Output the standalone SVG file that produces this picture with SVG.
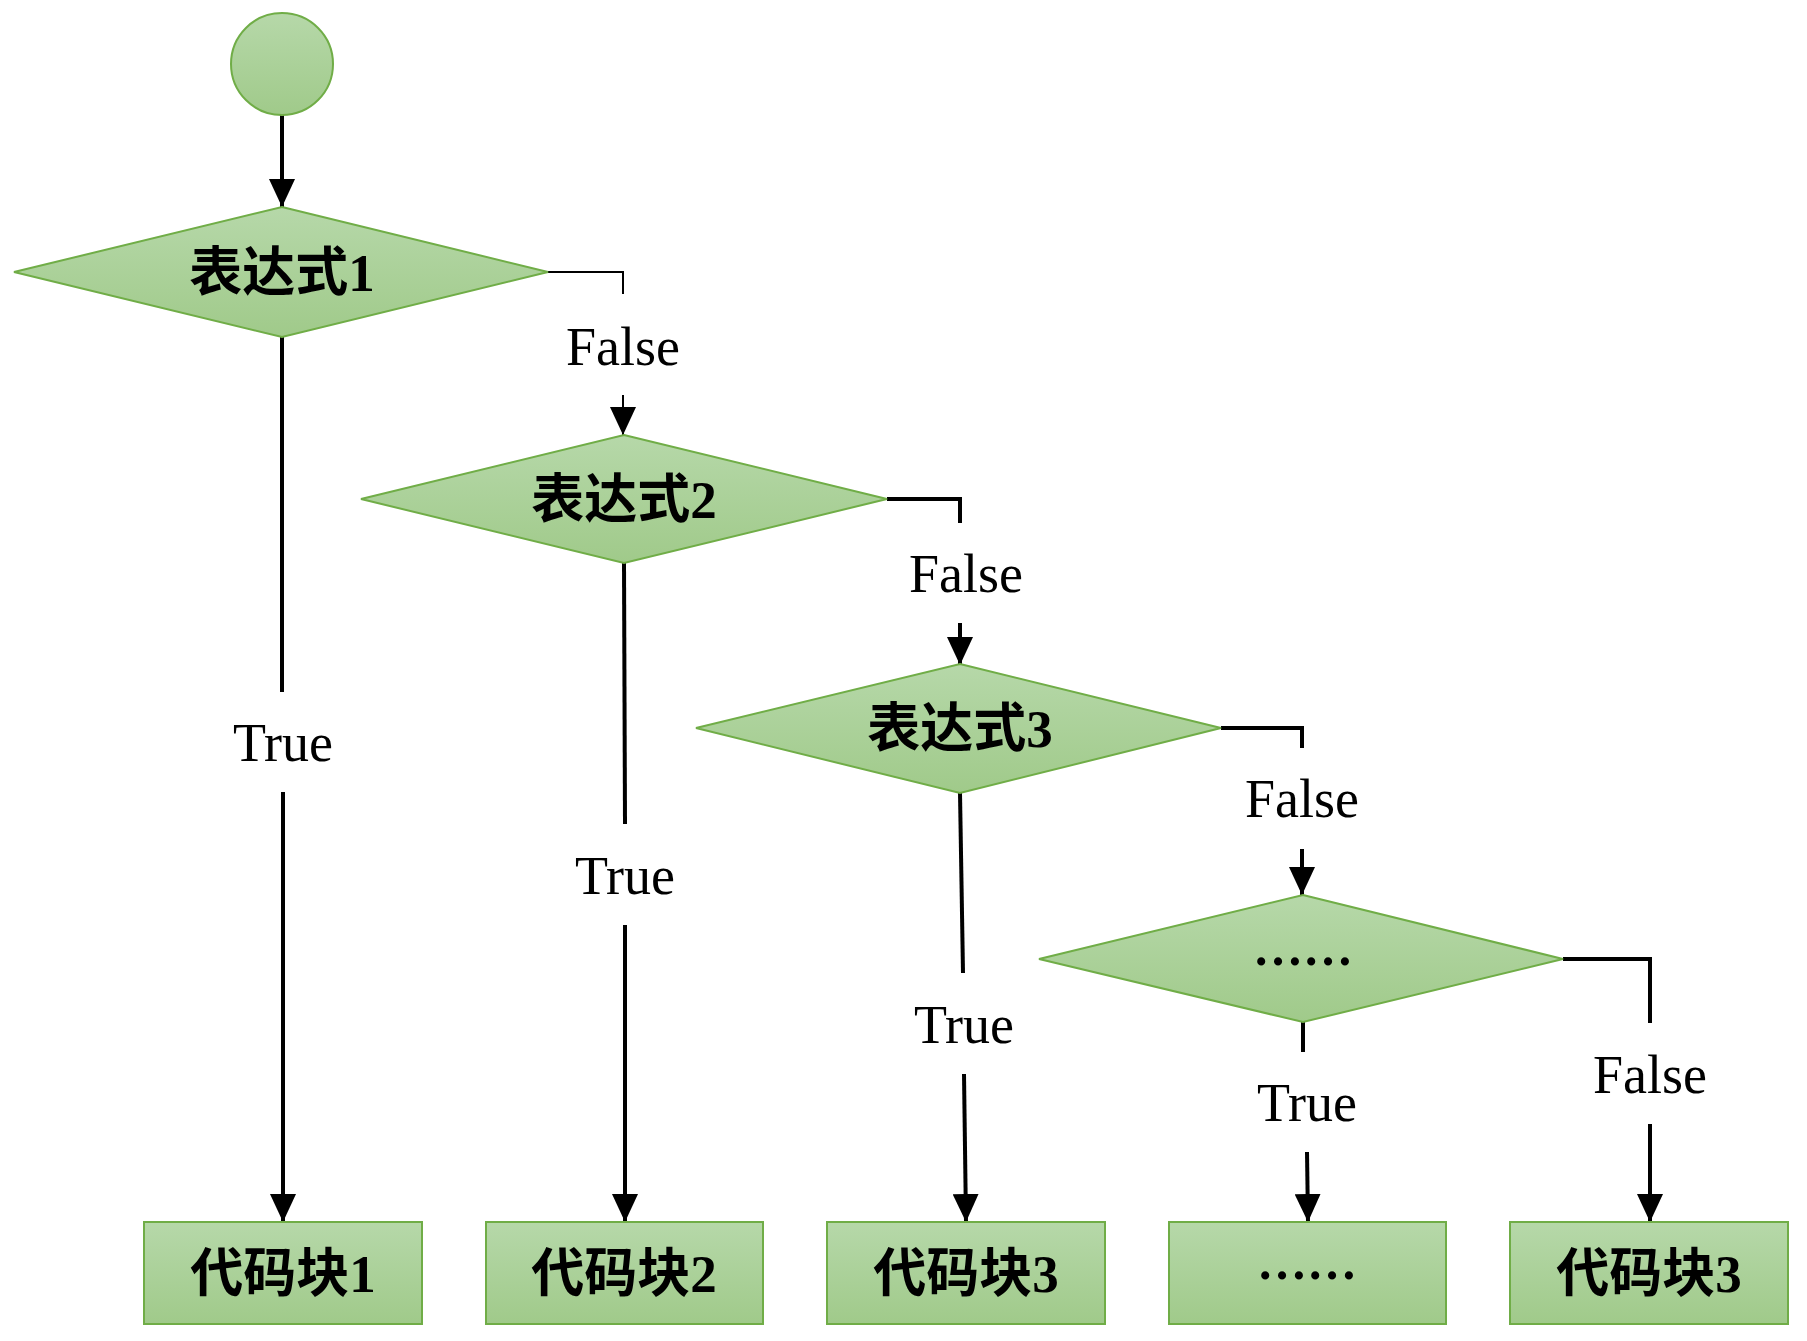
<svg xmlns="http://www.w3.org/2000/svg" width="1807" height="1341" viewBox="0 0 1807 1341">
<style>
.shape{fill:url(#g);stroke:#70ad47;stroke-width:2}
.ln{fill:none;stroke:#000;stroke-width:4}
.thin{stroke-width:2}
.lbl{font-family:"Liberation Serif","Times New Roman",serif;font-size:54px;fill:#000;text-anchor:middle}
.nt{font-family:"Liberation Serif","Noto Sans CJK SC",serif;font-size:53px;font-weight:bold;fill:#000;text-anchor:middle}
.dots{font-family:"Liberation Serif",serif;font-size:50px;font-weight:bold;fill:#000;text-anchor:middle}
</style>
<defs>
<linearGradient id="g" x1="0" y1="0" x2="0" y2="1">
<stop offset="0" stop-color="#b6d8a9"/>
<stop offset="1" stop-color="#a0ca8a"/>
</linearGradient>
<marker id="ah" viewBox="0 0 28 26" refX="28" refY="13" markerWidth="28" markerHeight="26" markerUnits="userSpaceOnUse" orient="auto">
<path d="M0,0 L28,13 L0,26 Z" fill="#000"/>
</marker>
</defs>
<rect width="1807" height="1341" fill="#fff"/>
<g id="connectors">
<path class="ln" d="M282,115 L282,207" marker-end="url(#ah)"/>
<path class="ln thin" d="M548,272 L623,272 L623,294"/>
<path class="ln thin" d="M623,395 L623,435" marker-end="url(#ah)"/>
<text class="lbl" x="623" y="365">False</text>
<path class="ln" d="M282,337 L282,692"/>
<path class="ln" d="M283,792 L283,1222" marker-end="url(#ah)"/>
<text class="lbl" x="283" y="761">True</text>
<path class="ln" d="M887,499 L960,499 L960,523"/>
<path class="ln" d="M960,623 L960,665" marker-end="url(#ah)"/>
<text class="lbl" x="966" y="592">False</text>
<path class="ln" d="M624,563 L625,824"/>
<path class="ln" d="M625,925 L625,1222" marker-end="url(#ah)"/>
<text class="lbl" x="625" y="894">True</text>
<path class="ln" d="M1221,728 L1302,728 L1302,748"/>
<path class="ln" d="M1302,849 L1302,895" marker-end="url(#ah)"/>
<text class="lbl" x="1302" y="817">False</text>
<path class="ln" d="M960,793 L963,973"/>
<path class="ln" d="M964,1074 L966,1222" marker-end="url(#ah)"/>
<text class="lbl" x="964" y="1043">True</text>
<path class="ln" d="M1563,959 L1650,959 L1650,1023"/>
<path class="ln" d="M1650,1124 L1650,1222" marker-end="url(#ah)"/>
<text class="lbl" x="1650" y="1093">False</text>
<path class="ln" d="M1303,1022 L1303,1052"/>
<path class="ln" d="M1307,1152 L1308,1222" marker-end="url(#ah)"/>
<text class="lbl" x="1307" y="1121">True</text>
</g>
<g id="start"><circle class="shape" cx="282" cy="64" r="51"/></g>
<g id="d1"><polygon class="shape" points="282,207 548,272 282,337 14,272"/><text class="nt" x="282" y="291">表达式1</text></g>
<g id="d2"><polygon class="shape" points="624,435 887,499 624,563 361,499"/><text class="nt" x="624" y="518">表达式2</text></g>
<g id="d3"><polygon class="shape" points="960,664 1221,728 960,793 696,728"/><text class="nt" x="960" y="747">表达式3</text></g>
<g id="d4"><polygon class="shape" points="1303,895 1563,959 1303,1022 1039,959"/><text class="dots" x="1303" y="965">……</text></g>
<g id="b1"><rect class="shape" x="144" y="1222" width="278" height="102"/><text class="nt" x="283" y="1292">代码块1</text></g>
<g id="b2"><rect class="shape" x="486" y="1222" width="277" height="102"/><text class="nt" x="624" y="1292">代码块2</text></g>
<g id="b3"><rect class="shape" x="827" y="1222" width="278" height="102"/><text class="nt" x="966" y="1292">代码块3</text></g>
<g id="b4"><rect class="shape" x="1169" y="1222" width="277" height="102"/><text class="dots" x="1307" y="1279">……</text></g>
<g id="b5"><rect class="shape" x="1510" y="1222" width="278" height="102"/><text class="nt" x="1649" y="1292">代码块3</text></g>
</svg>
